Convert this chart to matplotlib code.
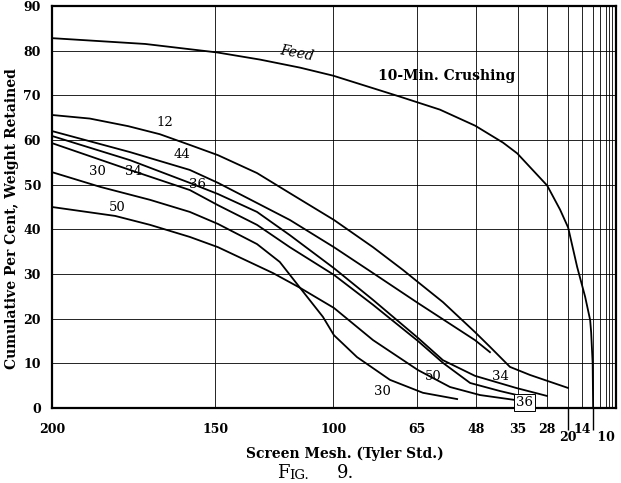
import numpy as np
import matplotlib
matplotlib.use("Agg")
from matplotlib import pyplot as plt
from matplotlib.transforms import blended_transform_factory

# Tyler standard sieves: mesh label and opening in microns
mesh_labels = ["200", "150", "100", "65", "48", "35", "28", "20", "14", "10"]
mesh_openings = [74, 104, 147, 208, 295, 417, 589, 833, 1168, 1651]
coarse_openings = [2362, 3327, 4699, 6680]   # 8, 6, 4, 3 mesh (grid only)

# curves: x = screen opening (microns), y = cumulative % retained
feed_x = [74, 88.6, 104.5, 117, 131.7, 147, 192, 235, 293, 364, 415, 590, 721, 837, 1020, 1267, 1493, 1548, 1640, 1672]
feed_y = [82.8, 81.5, 79.6, 78.0, 76.2, 74.4, 69.7, 66.8, 63.2, 59.4, 57.0, 49.8, 44.4, 40.4, 31.6, 24.9, 19.7, 17.0, 10.0, 0.0]

c12_x = [74, 79.3, 85.5, 91.4, 97.8, 104.7, 116, 127.6, 147.4, 170.9, 194.7, 209.2, 239.1, 292.5, 326.7, 387.1, 474.8, 833]
c12_y = [65.6, 64.8, 63.1, 61.3, 58.9, 56.6, 52.6, 48.1, 42.1, 36.0, 30.9, 28.2, 23.7, 17.0, 13.7, 9.2, 7.4, 4.5]

c44_x = [74, 85.8, 97.8, 104.7, 127.6, 147.4, 170.9, 209.2, 292.5, 326.7]
c44_y = [62.0, 57.3, 53.3, 50.4, 42.1, 36.0, 30.2, 23.5, 15.2, 12.5]

c36_x = [74, 85.8, 97.8, 104.7, 116, 127.6, 147.4, 170.9, 209.2, 239.1, 292.5, 409.8, 588.2]
c36_y = [60.9, 55.5, 50.4, 47.9, 43.9, 38.7, 31.3, 24.2, 15.7, 10.7, 7.2, 4.5, 2.7]

c34_x = [74, 85.8, 97.8, 104.7, 116, 127.6, 147.4, 170.9, 209.2, 239.1, 283, 354.4, 414]
c34_y = [59.3, 53.3, 48.8, 45.4, 41.0, 36.0, 29.8, 23.1, 15.0, 10.1, 5.6, 3.8, 2.9]

c30_x = [74, 80.9, 89.5, 97.8, 104.7, 116, 123.8, 131.7, 141.9, 147.4, 160.4, 183.6, 214.6, 260.1]
c30_y = [52.8, 49.5, 46.6, 43.9, 41.2, 36.7, 32.7, 26.9, 20.4, 16.3, 11.4, 6.3, 3.4, 2.0]

c50_x = [74, 83.3, 89.5, 97.8, 104.7, 121.4, 131.7, 147.4, 170.9, 209.2, 249.1, 303.1, 405.8]
c50_y = [45.0, 43.0, 41.0, 38.3, 36.0, 30.2, 26.9, 22.4, 15.2, 8.5, 4.7, 2.9, 1.8]


def recip(a):
    # the mesh axis is linear in 1/opening
    a = np.asarray(a, dtype=float)
    with np.errstate(divide="ignore", invalid="ignore"):
        return -1000.0 / a


serif = "DejaVu Serif"
plt.rcParams["font.family"] = serif

fig = plt.figure(figsize=(6.21, 4.83), dpi=100)
ax = fig.add_axes([52 / 621, 1 - 408 / 483, 564 / 621, 402 / 483])

# limits first so the reciprocal scale never sees zero
ax.set_xlim(74, 19000)
ax.set_ylim(0, 90)
ax.set_autoscale_on(False)
ax.set_xscale("function", functions=(recip, recip))
ax.set_xlim(74, 19000)

# grid
for xo in mesh_openings[1:] + coarse_openings:
    ax.axvline(xo, color="black", lw=0.6, zorder=1)
for yv in range(10, 90, 10):
    ax.axhline(yv, color="black", lw=0.6, zorder=1)

lw = 1.3
ax.plot(feed_x, feed_y, color="black", lw=lw, zorder=3, solid_joinstyle="round")
for xs, ys in [(c12_x, c12_y), (c44_x, c44_y), (c36_x, c36_y),
               (c34_x, c34_y), (c30_x, c30_y), (c50_x, c50_y)]:
    ax.plot(xs, ys, color="black", lw=lw, zorder=3, solid_joinstyle="round")

for s in ax.spines.values():
    s.set_linewidth(1.6)

ax.set_yticks(range(0, 91, 10))
ax.set_yticklabels([str(v) for v in range(0, 91, 10)], fontweight="bold", fontsize=9)
ax.tick_params(axis="y", length=0, pad=8)

# x ticks: 20 and 10 are drawn lower with a long tick
ax.set_xticks(mesh_openings[:7] + [mesh_openings[8]])
ax.set_xticklabels(mesh_labels[:7] + [mesh_labels[8]], fontweight="bold", fontsize=9)
ax.xaxis.set_minor_locator(matplotlib.ticker.NullLocator())
ax.tick_params(axis="x", length=0, pad=11)

trans = blended_transform_factory(ax.transData, ax.transAxes)
ax.vlines([mesh_openings[7], mesh_openings[9]], -0.055, 0, transform=trans,
          color="black", lw=1.0, clip_on=False)
ax.text(mesh_openings[7], -0.074, mesh_labels[7], transform=trans, ha="center",
        va="center", fontweight="bold", fontsize=9)
ax.text(mesh_openings[9], -0.074, " " + mesh_labels[9], transform=trans, ha="left",
        va="center", fontweight="bold", fontsize=9)

ax.set_ylabel("Cumulative Per Cent, Weight Retained", fontweight="bold", fontsize=10)
ax.yaxis.set_label_coords(-0.058, 0.47)
ax.set_xlabel("Screen Mesh. (Tyler Std.)", fontweight="bold", fontsize=10)
ax.xaxis.set_label_coords(0.519, -0.097)

# curve labels
lab = dict(fontsize=9.5, ha="center", va="center", zorder=4)
ax.text(92.4, 63.9, "12", **lab)
ax.text(96.1, 56.7, "44", **lab)
ax.text(80.4, 52.9, "30", **lab)
ax.text(86.4, 52.9, "34", **lab)
ax.text(99.5, 50.0, "36", **lab)
ax.text(83.6, 44.8, "50", **lab)
ax.text(177.4, 3.6, "30", **lab)
ax.text(226.2, 7.0, "50", **lab)
ax.text(354.4, 7.0, "34", **lab)
ax.text(449.4, 1.3, "36", bbox=dict(boxstyle="square,pad=0.15", fc="white", ec="black", lw=0.7), **lab)
ax.text(130.4, 79.4, "Feed", fontsize=10, style="italic", rotation=-11, ha="center", va="center")
ax.text(244.7, 74.4, "10-Min. Crushing", fontsize=10, fontweight="bold", ha="center", va="center")

# caption in small capitals
t1 = fig.text(277 / 621, 1 - 478 / 483, "F", fontsize=13, ha="left", va="baseline")
t2 = ax.annotate("IG.", xy=(1, 0), xycoords=t1, fontsize=9.5, ha="left", va="bottom")
ax.annotate("9.", xy=(1, 0), xycoords=t2, xytext=(20, 0), textcoords="offset points",
            fontsize=13, ha="left", va="bottom")

fig.savefig("out.png", dpi=100)
